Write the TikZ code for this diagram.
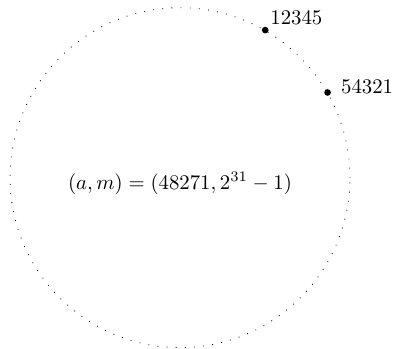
\documentclass[tikz,border=0pt]{standalone}
\usepackage{amsmath}
\usepackage{tikz}
\usetikzlibrary{positioning}

\begin{document}
\begin{tikzpicture}[
  ring/.style={draw, loosely dotted, thin},
  seed/.style={circle, fill, inner sep=0pt, minimum size=3.2pt},
  every node/.style={align=center}
]
\useasboundingbox (-3.04,-2.88) rectangle (3.63,3.0);

% Orbit of the generator
\node[ring, circle, minimum size=5.74cm, inner sep=0pt] (orbit) at (0,0) {};

% Parameters
\node (param) at (0,-0.1) {$(a,m) = (48271, 2^{31}-1)$};

% Seeds on the orbit
\node[seed, label={[inner sep=1pt]above right:12345}] (s1) at (orbit.60) {};
\node[seed, label={[inner sep=4.5pt, yshift=3pt]right:54321}] (s2) at (orbit.30) {};

\end{tikzpicture}
\end{document}
